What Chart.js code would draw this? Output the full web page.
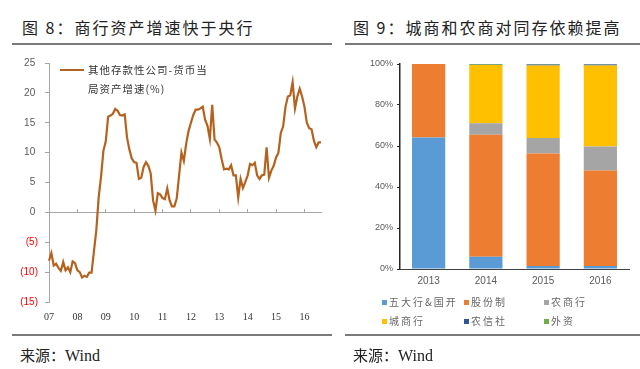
<!DOCTYPE html>
<html><head><meta charset="utf-8">
<script src="https://cdn.jsdelivr.net/npm/chart.js@4"></script>
<style>
html,body{margin:0;padding:0;background:#fff;width:640px;height:369px;overflow:hidden;position:relative;font-family:"Noto Sans CJK SC",sans-serif;}
.abs{position:absolute;}
.title{font-size:16px;letter-spacing:2px;color:#222;white-space:nowrap;line-height:20px;}
.rule{height:0;border-top:2px solid #7a7a7a;}
.src{font-size:15px;color:#222;white-space:nowrap;line-height:20px;}
.src .en{font-family:"Liberation Serif",serif;font-size:16px;}
.lg{font-size:10.5px;letter-spacing:1px;color:#333;white-space:nowrap;line-height:19px;}
.lg2{font-size:10px;letter-spacing:2px;color:#666;white-space:nowrap;line-height:12px;}
.sq{display:inline-block;width:5px;height:5px;margin-right:2px;vertical-align:1px;}
</style></head>
<body>
<div class="abs title" style="left:22px;top:17px">图 8：商行资产增速快于央行</div>
<div class="abs title" style="left:353px;top:17px">图 9：城商和农商对同存依赖提高</div>
<div class="abs rule" style="left:12px;top:43px;width:320px"></div>
<div class="abs rule" style="left:345px;top:43px;width:295px"></div>
<div class="abs" style="left:0;top:50px;width:330px;height:280px"><canvas id="c1"></canvas></div>
<div class="abs" style="left:330px;top:50px;width:310px;height:250px"><canvas id="c2"></canvas></div>
<div class="abs" id="lgLine" style="left:60px;top:69px;width:24px;height:2px;background:#B5621E"></div>
<div class="abs lg" id="lgText" style="left:88px;top:60px">其他存款性公司-货币当<br>局资产增速(%)</div>
<div class="abs" id="lg2" style="left:0;top:0"></div>
<div class="abs rule" style="left:12px;top:334px;width:320px"></div>
<div class="abs rule" style="left:345px;top:334px;width:295px"></div>
<div class="abs src" style="left:20px;top:345px">来源：<span class="en">Wind</span></div>
<div class="abs src" style="left:353px;top:345px">来源：<span class="en">Wind</span></div>
<script>
// ---- Figure 8 data ----
const startYear = 2007;
const yearTicks = ['07','08','09','10','11','12','13','14','15','16'];
const assetGrowth = [
 -8.1,-6.8,-8.9,-8.6,-9.3,-9.8,-8.3,-9.7,-9.2,-10.0,-8.2,-8.5,
 -9.7,-10.0,-10.9,-10.6,-10.8,-10.1,-10.1,-6.5,-3.0,2.5,6.0,10.3,
 11.9,16.0,16.2,16.5,17.3,17.0,16.3,16.2,16.4,12.5,10.5,9.0,
 8.4,8.3,5.6,5.8,7.6,8.4,7.8,6.5,2.0,0.3,3.2,3.0,
 2.4,2.2,4.0,2.0,1.0,1.0,2.3,6.2,10.0,8.6,11.5,13.6,
 15.0,16.3,17.2,17.2,17.4,17.7,15.5,14.5,12.3,18.0,12.2,11.7,
 10.9,8.9,7.2,7.3,7.2,7.9,6.2,6.2,2.5,5.6,4.1,5.1,
 6.2,8.1,7.9,8.3,6.2,5.6,6.2,6.3,10.9,5.8,7.0,7.8,
 9.2,10.0,13.3,14.4,17.7,19.4,19.6,21.8,17.4,19.4,20.7,19.4,
 17.7,15.0,14.1,13.9,12.0,10.9,11.7,11.7
];
const monthLabels = assetGrowth.map((_, i) =>
  (startYear + Math.floor(i / 12)) + '-' + String(i % 12 + 1).padStart(2, '0'));
const yTicks8 = [-15,-10,-5,0,5,10,15,20,25];

// ---- Figure 9 data ----
const years9 = ['2013','2014','2015','2016'];
const seriesNames = ['五大行&国开','股份制','农商行','城商行','农信社','外资'];
const seriesColors = ['#5B9BD5','#ED7D31','#A5A5A5','#FFC000','#2F5597','#70AD47'];
const big5 = [64.2, 6.0, 1.5, 1.5];
const joint = [35.8, 59.5, 54.9, 46.5];
const rural = [0, 5.6, 7.5, 11.7];
const city = [0, 28.4, 35.4, 39.6];
const rcc = [0, 0.1, 0.5, 0.5];
const foreign = [0, 0.4, 0.2, 0.2];
const seriesValues = [big5, joint, rural, city, rcc, foreign];

Chart.defaults.font.family = '"Liberation Sans", Arial, sans-serif';
Chart.defaults.animation = false;

new Chart(document.getElementById('c1'), {
  type: 'line',
  data: {
    labels: monthLabels,
    datasets: [{
      label: '其他存款性公司-货币当局资产增速(%)',
      data: assetGrowth,
      borderColor: '#B5621E',
      borderWidth: 2.2,
      pointRadius: 0,
      tension: 0,
      xAxisID: 'x'
    }]
  },
  options: {
    responsive: true, maintainAspectRatio: false, devicePixelRatio: 1,
    layout: { padding: { top: 9, right: 6, left: 0, bottom: 0 } },
    plugins: { legend: { display: false }, tooltip: { enabled: false } },
    scales: {
      x: {
        type: 'category', position: 'bottom',
        border: { display: false },
        grid: { display: false, drawTicks: false },
        ticks: {
          autoSkip: false, maxRotation: 0, padding: 9,
          color: '#333', font: { size: 10, family: '"Liberation Serif", serif' },
          callback: (v, i) => (i % 12 === 0 ? yearTicks[i / 12] : '')
        },
        afterFit: s => { s.height = 28; }
      },
      x0: {
        type: 'category', position: { y: 0 }, labels: monthLabels,
        border: { display: true, color: '#A6A6A6', width: 1 },
        grid: {
          drawOnChartArea: false, drawTicks: true, tickLength: -4,
          color: c => (c.index % 12 === 0 ? '#A6A6A6' : 'rgba(0,0,0,0)')
        },
        ticks: { display: false },
        afterFit: s => { s.height = 0; }
      },
      y: {
        min: -15, max: 25,
        border: { display: true, color: '#A6A6A6', width: 1 },
        grid: { drawOnChartArea: false, drawTicks: true, tickLength: 4, color: '#A6A6A6' },
        afterBuildTicks: s => { s.ticks = yTicks8.map(v => ({ value: v })); },
        ticks: {
          padding: 7, font: { size: 10 },
          color: c => (c.tick.value < 0 ? '#FF0000' : '#595959'),
          callback: v => (v < 0 ? '(' + (-v) + ')' : v + ' ')
        },
        afterFit: s => { s.width = 49; }
      }
    }
  }
});

new Chart(document.getElementById('c2'), {
  type: 'bar',
  data: {
    labels: years9,
    datasets: seriesNames.map((n, k) => ({
      label: n, data: seriesValues[k], backgroundColor: seriesColors[k],
      borderWidth: 0, barPercentage: 0.58, categoryPercentage: 1
    }))
  },
  options: {
    responsive: true, maintainAspectRatio: false, devicePixelRatio: 1,
    layout: { padding: { top: 14, right: 11, left: 0, bottom: 0 } },
    plugins: { legend: { display: false }, tooltip: { enabled: false } },
    scales: {
      x: {
        stacked: true,
        border: { display: true, color: '#404040', width: 1 },
        grid: { display: false, drawTicks: false },
        ticks: { padding: 6, color: '#595959', font: { size: 10 } },
        afterFit: s => { s.height = 31; }
      },
      y: {
        stacked: true, min: 0, max: 100,
        border: { display: true, color: '#262626', width: 1.5 },
        grid: { drawOnChartArea: false, drawTicks: true, tickLength: 3, color: '#262626' },
        ticks: { stepSize: 20, padding: 4, color: '#595959', font: { size: 9 }, callback: v => v + '%' },
        afterFit: s => { s.width = 70; }
      }
    }
  }
});

// legend for figure 9 (3 columns x 2 rows)
const lg2 = document.getElementById('lg2');
const lgX = [382, 464, 544], lgY = [296, 315];
seriesNames.forEach((n, k) => {
  const d = document.createElement('div');
  d.className = 'abs lg2';
  d.style.left = lgX[k % 3] + 'px';
  d.style.top = lgY[Math.floor(k / 3)] + 'px';
  d.innerHTML = '<span class="sq" style="background:' + seriesColors[k] + '"></span>' + n;
  lg2.appendChild(d);
});
</script>
</body></html>
